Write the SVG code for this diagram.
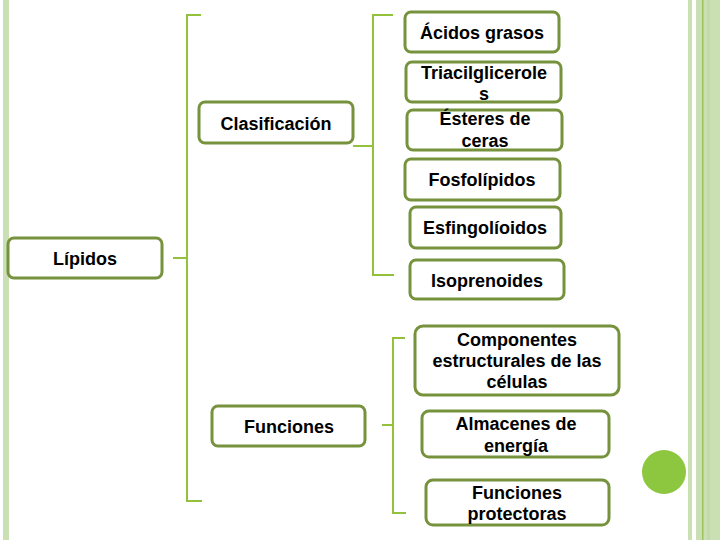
<svg xmlns="http://www.w3.org/2000/svg" width="720" height="540" viewBox="0 0 720 540">
<style>
.box{fill:#fff;stroke:#76923c;stroke-width:3}
.t{font-family:"Liberation Sans",Arial,sans-serif;font-weight:bold;font-size:18px;fill:#000;text-anchor:middle}
.br{fill:none;stroke:#93c13c;stroke-width:2}
</style>
<rect x="0" y="0" width="720" height="540" fill="#fff"/>
<rect x="3" y="0" width="6" height="540" fill="#cbdfb4"/>
<rect x="688" y="0" width="4" height="540" fill="#cbdfb4"/>
<rect x="696" y="0" width="24" height="540" fill="#cbdfb4"/>
<rect x="702" y="0" width="1.5" height="540" fill="#9dc45c"/>
<rect x="707" y="0" width="3" height="540" fill="#c3d9a8"/>
<circle cx="664" cy="472" r="22" fill="#8dc63f"/>
<g id="connectors">
<path class="br" d="M201 15 H187 V501 H202"/>
<path class="br" d="M173 258 H187"/>
<path class="br" d="M393 15 H373 V275 H394"/>
<path class="br" d="M353 146 H373"/>
<path class="br" d="M405 338 H393 V513 H406"/>
<path class="br" d="M382 425 H393"/>
</g>
<g id="lipidos"><rect class="box" x="8" y="238" width="154" height="40" rx="6"/><text class="t" x="85" y="265">Lípidos</text></g>
<g id="clasificacion"><rect class="box" x="199" y="102" width="154" height="41" rx="6"/><text class="t" x="276" y="130">Clasificación</text></g>
<g id="funciones"><rect class="box" x="212" y="406" width="153" height="40" rx="6"/><text class="t" x="289" y="433">Funciones</text></g>
<g id="acidos"><rect class="box" x="405" y="12" width="154" height="40" rx="6"/><text class="t" x="482" y="39">Ácidos grasos</text></g>
<g id="triacil"><rect class="box" x="406" y="62" width="155" height="40" rx="6"/><text class="t" x="484" y="79">Triacilglicerole</text><text class="t" x="484" y="100">s</text></g>
<g id="esteres"><rect class="box" x="407" y="110" width="155" height="40" rx="6"/><text class="t" x="485" y="125">Ésteres de</text><text class="t" x="485" y="147">ceras</text></g>
<g id="fosfolipidos"><rect class="box" x="405" y="159" width="155" height="41" rx="6"/><text class="t" x="482" y="186">Fosfolípidos</text></g>
<g id="esfingo"><rect class="box" x="410" y="207" width="151" height="41" rx="6"/><text class="t" x="485" y="234">Esfingolíoidos</text></g>
<g id="isoprenoides"><rect class="box" x="410" y="260" width="154" height="39" rx="6"/><text class="t" x="487" y="287">Isoprenoides</text></g>
<g id="componentes"><rect class="box" x="415" y="326" width="204" height="69" rx="8"/><text class="t" x="517" y="346">Componentes</text><text class="t" x="517" y="367">estructurales de las</text><text class="t" x="517" y="388">células</text></g>
<g id="almacenes"><rect class="box" x="422" y="411" width="187" height="46" rx="7"/><text class="t" x="516" y="430">Almacenes de</text><text class="t" x="516" y="452">energía</text></g>
<g id="protectoras"><rect class="box" x="426" y="480" width="183" height="45" rx="7"/><text class="t" x="517" y="499">Funciones</text><text class="t" x="517" y="520">protectoras</text></g>
</svg>
